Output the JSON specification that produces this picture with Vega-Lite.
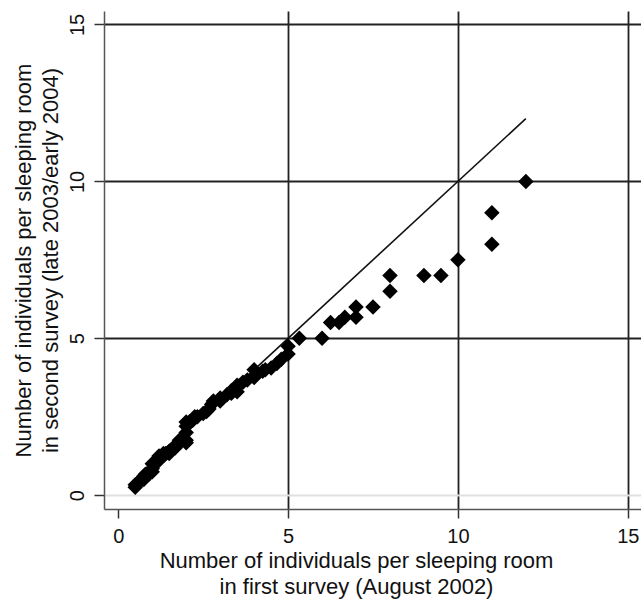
{
  "$schema": "https://vega.github.io/schema/vega-lite/v6.json",
  "autosize": "none",
  "padding": {"left": 104, "top": 11, "right": 0, "bottom": 90},
  "width": 537,
  "height": 498,
  "background": "white",
  "config": {
    "view": {"stroke": null},
    "font": "Liberation Sans"
  },
  "datasets": {
    "pts": [
      {"first": 0.5, "second": 0.25}, {"first": 0.5, "second": 0.33}, {"first": 0.6, "second": 0.4},
      {"first": 0.67, "second": 0.5}, {"first": 0.75, "second": 0.5}, {"first": 0.75, "second": 0.6},
      {"first": 0.8, "second": 0.67}, {"first": 0.9, "second": 0.67}, {"first": 1, "second": 0.75},
      {"first": 1, "second": 0.85}, {"first": 1, "second": 1}, {"first": 1.1, "second": 1},
      {"first": 1.17, "second": 1.1}, {"first": 1.2, "second": 1.25}, {"first": 1.25, "second": 1.2},
      {"first": 1.33, "second": 1.25}, {"first": 1.33, "second": 1.33}, {"first": 1.4, "second": 1.33},
      {"first": 1.5, "second": 1.33}, {"first": 1.5, "second": 1.4}, {"first": 1.6, "second": 1.5},
      {"first": 1.67, "second": 1.5}, {"first": 1.75, "second": 1.6}, {"first": 1.8, "second": 1.75},
      {"first": 2, "second": 1.67}, {"first": 2, "second": 1.75}, {"first": 2, "second": 2},
      {"first": 2, "second": 2.2}, {"first": 2, "second": 2.33}, {"first": 2.1, "second": 2.33},
      {"first": 2.2, "second": 2.4}, {"first": 2.25, "second": 2.5}, {"first": 2.33, "second": 2.5},
      {"first": 2.5, "second": 2.6}, {"first": 2.6, "second": 2.67}, {"first": 2.67, "second": 2.75},
      {"first": 2.75, "second": 2.9}, {"first": 2.8, "second": 3}, {"first": 3, "second": 3},
      {"first": 3, "second": 3.1}, {"first": 3.2, "second": 3.2}, {"first": 3.33, "second": 3.25},
      {"first": 3.33, "second": 3.33}, {"first": 3.5, "second": 3.3}, {"first": 3.5, "second": 3.5},
      {"first": 3.67, "second": 3.6}, {"first": 3.8, "second": 3.67}, {"first": 4, "second": 3.75},
      {"first": 4, "second": 4}, {"first": 4.25, "second": 3.95}, {"first": 4.33, "second": 4},
      {"first": 4.5, "second": 4.05}, {"first": 4.67, "second": 4.2}, {"first": 4.8, "second": 4.33},
      {"first": 5, "second": 4.5}, {"first": 5, "second": 4.75}, {"first": 5.33, "second": 5},
      {"first": 6, "second": 5}, {"first": 6.25, "second": 5.5}, {"first": 6.5, "second": 5.5},
      {"first": 6.67, "second": 5.67}, {"first": 7, "second": 5.67}, {"first": 7, "second": 6},
      {"first": 7.5, "second": 6}, {"first": 8, "second": 6.5}, {"first": 8, "second": 7},
      {"first": 9, "second": 7}, {"first": 9.5, "second": 7}, {"first": 10, "second": 7.5},
      {"first": 11, "second": 8}, {"first": 11, "second": 9}, {"first": 12, "second": 10}
    ],
    "diag": [
      {"first": 0.5, "second": 0.5},
      {"first": 12, "second": 12}
    ]
  },
  "layer": [
    {
      "data": {"name": "diag"},
      "mark": {"type": "line", "color": "#111", "strokeWidth": 1.6},
      "encoding": {
        "x": {
          "field": "first", "type": "quantitative",
          "scale": {"domain": [-0.42, 15.39], "nice": false, "zero": false},
          "axis": {
            "values": [0, 5, 10, 15],
            "title": ["Number of individuals per sleeping room", "in first survey (August 2002)"],
            "titleFontSize": 22, "titleFontWeight": "normal", "titleColor": "#111",
            "titleX": 252, "titleY": 58, "titleBaseline": "alphabetic", "titleLineHeight": 26,
            "titleAnchor": "middle", "titleAlign": "center",
            "labelFontSize": 20, "labelColor": "#111", "labelPadding": 8,
            "tickSize": 9, "tickColor": "#333", "tickWidth": 1.5,
            "domainColor": "#555", "domainWidth": 1.5,
            "grid": true,
            "gridColor": {"condition": {"test": "datum.value === 0", "value": "transparent"}, "value": "#222"},
            "gridWidth": 1.8, "gridOpacity": 1
          }
        },
        "y": {
          "field": "second", "type": "quantitative",
          "scale": {"domain": [-0.44, 15.43], "nice": false, "zero": false},
          "axis": {
            "values": [0, 5, 10, 15],
            "title": ["Number of individuals per sleeping room", "in second survey (late 2003/early 2004)"],
            "titleFontSize": 22, "titleFontWeight": "normal", "titleColor": "#111",
            "titleX": -81, "titleY": 249, "titleBaseline": "middle", "titleLineHeight": 27,
            "titleAngle": -90, "titleAnchor": "middle", "titleAlign": "center",
            "labelFontSize": 20, "labelColor": "#111", "labelAngle": -90, "labelAlign": "center",
            "labelBaseline": "bottom", "labelPadding": 7,
            "tickSize": 10, "tickColor": "#333", "tickWidth": 1.5,
            "domainColor": "#555", "domainWidth": 1.5,
            "grid": true,
            "gridColor": {"condition": {"test": "datum.value === 0", "value": "#e0e0e0"}, "value": "#222"},
            "gridWidth": 1.8, "gridOpacity": 1
          }
        }
      }
    },
    {
      "data": {"name": "pts"},
      "mark": {"type": "point", "shape": "diamond", "filled": true, "color": "#000", "size": 240, "opacity": 1},
      "encoding": {
        "x": {"field": "first", "type": "quantitative"},
        "y": {"field": "second", "type": "quantitative"}
      }
    }
  ]
}
